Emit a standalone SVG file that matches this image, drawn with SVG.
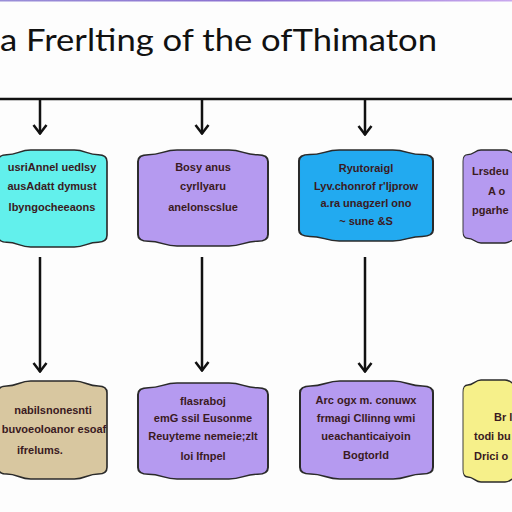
<svg xmlns="http://www.w3.org/2000/svg" xmlns:xlink="http://www.w3.org/1999/xlink" width="512" height="512" viewBox="0 0 512 512">
<defs>
<linearGradient id="topbar" x1="0" y1="0" x2="1" y2="0">
<stop offset="0" stop-color="#9a8fd8"/><stop offset="0.5" stop-color="#8a6fd0"/><stop offset="1" stop-color="#c9a8ee"/>
</linearGradient>
<path id="blob" d="M0,12 Q0,5 8,5 C18,5 20,0 30,0 L70,0 C80,0 82,5 92,5 Q100,5 100,12 L100,88 Q100,95 92,95 C82,95 80,100 70,100 L30,100 C20,100 18,95 8,95 Q0,95 0,88 Z"/>
<marker id="arr" viewBox="0 0 14 16" refX="13" refY="8" markerWidth="14" markerHeight="16" markerUnits="userSpaceOnUse" orient="auto">
<polyline points="4,1.5 12.5,8 4,14.5" fill="none" stroke="#111" stroke-width="2.5"/>
</marker>
<style>
.box{stroke:#2a2a2a;stroke-width:1.5;}
.box use{vector-effect:non-scaling-stroke;}
.box text{stroke:none;}
.lbl{font-family:"Liberation Sans",Arial,sans-serif;font-weight:bold;font-size:11px;fill:#3a1a22;text-anchor:middle;}
.lbls{font-family:"Liberation Sans",Arial,sans-serif;font-weight:bold;font-size:11px;fill:#3a1a22;}
.conn{stroke:#111;stroke-width:2.5;fill:none;}
</style>
</defs>
<rect width="512" height="512" fill="#fdfdfd"/>
<rect x="0" y="0" width="512" height="1.5" fill="url(#topbar)"/>
<text x="0" y="51" font-family="Lato,'Open Sans',sans-serif" font-size="31" fill="#111" textLength="437" lengthAdjust="spacingAndGlyphs">a Frerlting of the ofThimaton</text>

<g id="connectors">
<line class="conn" x1="0" y1="99" x2="512" y2="99"/>
<line class="conn" x1="40" y1="99" x2="40" y2="134" marker-end="url(#arr)"/>
<line class="conn" x1="202" y1="99" x2="202" y2="134" marker-end="url(#arr)"/>
<line class="conn" x1="365" y1="99" x2="365" y2="135" marker-end="url(#arr)"/>
<line class="conn" x1="40" y1="257" x2="40" y2="372" marker-end="url(#arr)"/>
<line class="conn" x1="202" y1="257" x2="202" y2="371" marker-end="url(#arr)"/>
<line class="conn" x1="365" y1="257" x2="365" y2="372" marker-end="url(#arr)"/>
</g>

<g id="node1" class="box">
<use xlink:href="#blob" fill="#62f0ec" transform="translate(-2,150) scale(1.09,0.97)"/>
<text class="lbl" x="52" y="171">usriAnnel uedlsy</text>
<text class="lbl" x="52" y="190">ausAdatt dymust</text>
<text class="lbl" x="52" y="211">lbyngocheeaons</text>
</g>
<g id="node2" class="box">
<use xlink:href="#blob" fill="#b59af0" transform="translate(138,150) scale(1.3,0.96)"/>
<text class="lbl" x="203" y="171">Bosy anus</text>
<text class="lbl" x="203" y="190">cyrllyaru</text>
<text class="lbl" x="203" y="211">anelonscslue</text>
</g>
<g id="node3" class="box">
<use xlink:href="#blob" fill="#22aaf0" transform="translate(299,150) scale(1.34,0.91)"/>
<text class="lbl" x="366" y="172">Ryutoraigl</text>
<text class="lbl" x="366" y="190">Lyv.chonrof r'ljprow</text>
<text class="lbl" x="366" y="207">a.ra unagzerl ono</text>
<text class="lbl" x="366" y="225">~ sune &amp;S</text>
</g>
<g id="node4" class="box">
<use xlink:href="#blob" fill="#b59af0" transform="translate(463,150) scale(0.6,0.93)"/>
<text class="lbls" x="472" y="175">Lrsdeu</text>
<text class="lbls" x="488" y="195">A o</text>
<text class="lbls" x="472" y="214">pgarhe</text>
</g>

<g id="node5" class="box">
<use xlink:href="#blob" fill="#d8c7a0" transform="translate(-2,381) scale(1.09,0.98)"/>
<text class="lbl" x="53" y="414">nabilsnonesnti</text>
<text class="lbl" x="54" y="433" font-size="10.5">buvoeoloanor esoaf</text>
<text class="lbl" x="40" y="454">ifrelums.</text>
</g>
<g id="node6" class="box">
<use xlink:href="#blob" fill="#b59af0" transform="translate(138,383) scale(1.3,0.96)"/>
<text class="lbl" x="203" y="405">flasraboj</text>
<text class="lbl" x="203" y="422">emG ssil Eusonme</text>
<text class="lbl" x="203" y="440">Reuyteme nemeie;zlt</text>
<text class="lbl" x="203" y="460">loi Ifnpel</text>
</g>
<g id="node7" class="box">
<use xlink:href="#blob" fill="#b59af0" transform="translate(300,381) scale(1.33,0.98)"/>
<text class="lbl" x="366" y="404">Arc ogx m. conuwx</text>
<text class="lbl" x="366" y="422">frmagi Cllinng wmi</text>
<text class="lbl" x="366" y="440">ueachanticaiyoin</text>
<text class="lbl" x="366" y="459">Bogtorld</text>
</g>
<g id="node8" class="box">
<use xlink:href="#blob" fill="#f6f08a" transform="translate(463,380) scale(0.6,1.02)"/>
<text class="lbls" x="494" y="421">Br l</text>
<text class="lbls" x="474" y="440">todi bu</text>
<text class="lbls" x="474" y="460">Drici o</text>
</g>
</svg>
